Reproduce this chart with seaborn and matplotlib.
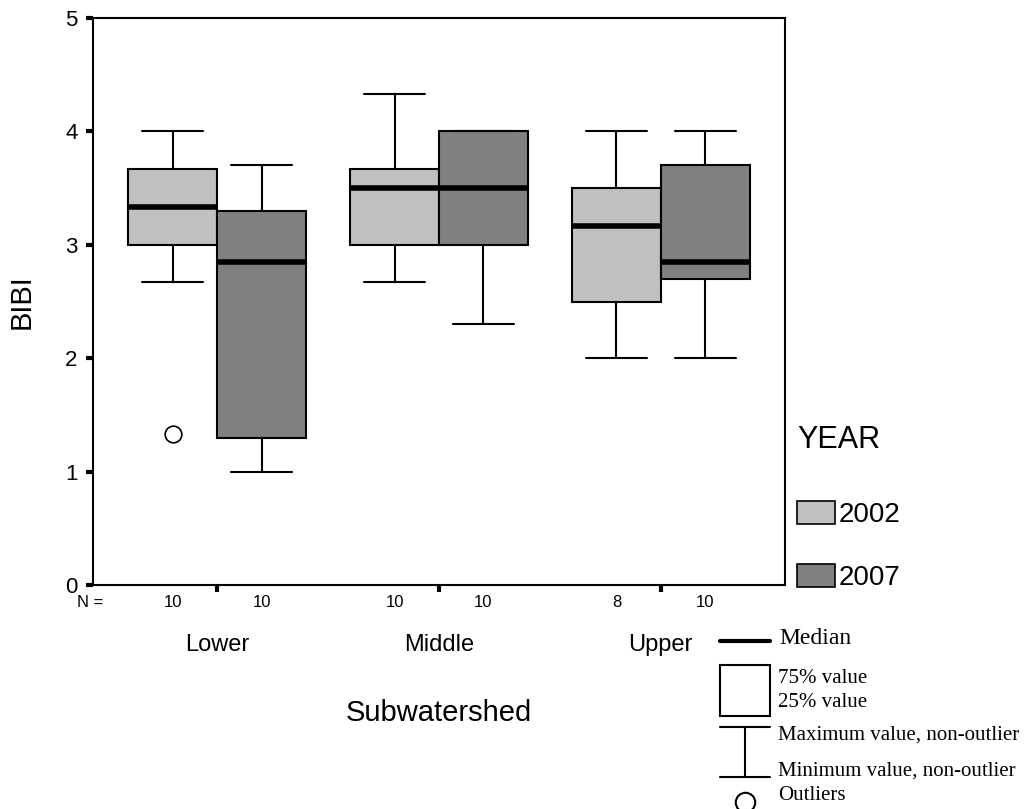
"""
BIBI by subwatershed, 2002 vs 2007 (SPSS-style boxplot)
"""
import numpy as np, pandas as pd
import seaborn as sns, matplotlib.pyplot as plt
import matplotlib.transforms as mtransforms
from matplotlib.patches import Patch, Rectangle
from matplotlib.lines import Line2D

# ────────── data ──────────
SUBWATERSHEDS = ["Lower", "Middle", "Upper"]
YEARS         = ["2002", "2007"]
COLORS        = {"2002": "#c0c0c0", "2007": "#808080"}

# site scores, read back from the boxes (min / q1 / median / q3 / max / outlier)
LOWER_2002  = [1.33, 2.67, 3.0, 3.0, 3.33, 3.33, 3.67, 3.67, 4.0, 4.0]
LOWER_2007  = [1.0, 1.3, 1.3, 1.3, 2.7, 3.0, 3.3, 3.3, 3.7, 3.7]
MIDDLE_2002 = [2.67, 3.0, 3.0, 3.0, 3.33, 3.67, 3.67, 3.67, 4.0, 4.33]
MIDDLE_2007 = [2.3, 3.0, 3.0, 3.0, 3.3, 3.7, 4.0, 4.0, 4.0, 4.0]
UPPER_2002  = [2.0, 2.5, 2.5, 3.0, 3.33, 3.5, 3.5, 4.0]
UPPER_2007  = [2.0, 2.7, 2.7, 2.7, 2.7, 3.0, 3.7, 3.7, 4.0, 4.0]

GROUPS = {("Lower", "2002"): LOWER_2002,  ("Lower", "2007"): LOWER_2007,
          ("Middle", "2002"): MIDDLE_2002, ("Middle", "2007"): MIDDLE_2007,
          ("Upper", "2002"): UPPER_2002,  ("Upper", "2007"): UPPER_2007}

rows = [{"Subwatershed": s, "YEAR": y, "BIBI": v}
        for (s, y), vals in GROUPS.items() for v in vals]
df = pd.DataFrame(rows)

# ────────── style ──────────
sns.set_style("white")
plt.rcParams["font.family"] = ["Liberation Sans", "DejaVu Sans"]
for k in ["text.color", "axes.labelcolor", "xtick.color", "ytick.color"]:
    plt.rcParams[k] = "black"
W, H = 1028, 809
fig = plt.figure(figsize=(W/100, H/100), dpi=100)
ax = fig.add_axes([93/W, 1-585/H, (785-93)/W, (585-18)/H])

sns.boxplot(data=df, x="Subwatershed", y="BIBI", hue="YEAR",
            order=SUBWATERSHEDS, hue_order=YEARS, palette=COLORS,
            saturation=1, width=0.8, gap=0, whis=1.5,
            linecolor="black", linewidth=1.5, fliersize=12,
            flierprops=dict(marker="o", markerfacecolor="none",
                            markeredgecolor="black", markeredgewidth=1.2),
            medianprops=dict(color="black", linewidth=4),
            capwidths=0.275, legend=False, ax=ax)

ax.set_xlim(-0.56, 2.56); ax.set_ylim(0, 5)
ax.set_yticks(range(6))
for sp in ax.spines.values():
    sp.set_visible(True); sp.set_linewidth(1.5); sp.set_color("black")
ax.tick_params(axis="both", direction="out", length=5, width=3, color="black",
               left=True, bottom=True)
ax.tick_params(axis="y", labelsize=16, pad=6)
ax.tick_params(axis="x", labelsize=17, pad=30)

ax.set_xlabel("Subwatershed", fontsize=21)
ax.xaxis.set_label_coords(0.5, (585-699)/567)
ax.set_ylabel("BIBI", fontsize=21)
ax.yaxis.set_label_coords(-0.083, 0.5)

# N = row
trans = mtransforms.blended_transform_factory(ax.transData, ax.transAxes)
ax.text(-0.004, -0.03, "N =", transform=ax.transAxes, ha="center",
        va="center", fontsize=12)
for i, s in enumerate(SUBWATERSHEDS):
    for j, y in enumerate(YEARS):
        n = len(GROUPS[(s, y)])
        ax.text(i + (j - 0.5)*0.4, -0.03, str(n), transform=trans,
                ha="center", va="center", fontsize=12)

# YEAR legend
handles = [Patch(facecolor=COLORS[y], edgecolor="black", linewidth=1.2) for y in YEARS]
leg = ax.legend(handles, YEARS, title="YEAR", loc="upper left",
                bbox_to_anchor=(797/W, 1-425/H), bbox_transform=fig.transFigure,
                frameon=False, fontsize=20, title_fontsize=22, alignment="left",
                handlelength=1.35, handleheight=0.9, labelspacing=1.3,
                handletextpad=0.15, borderpad=0, borderaxespad=0)
leg._legend_box.sep = 33

# symbol key (pixel coordinates of the figure)
key = fig.add_axes([0, 0, 1, 1], facecolor="none")
key.set_xlim(0, W); key.set_ylim(H, 0); key.axis("off")
key.add_line(Line2D([720, 770], [641, 641], color="black", lw=3))
key.add_patch(Rectangle((720, 665), 50, 51, fill=False, ec="black", lw=1.5))
key.add_line(Line2D([720, 770], [727, 727], color="black", lw=1.5))
key.add_line(Line2D([745, 745], [727, 777], color="black", lw=1.5))
key.add_line(Line2D([720, 770], [777, 777], color="black", lw=1.5))
key.plot([745], [802], marker="o", ms=14, mfc="none", mec="black", mew=1.5)
serif = ["Liberation Serif", "DejaVu Serif"]
key.text(779, 644, "Median", fontsize=17, family=serif, va="baseline")
for txt, yb in [("75% value", 683), ("25% value", 707),
                ("Maximum value, non-outlier", 740),
                ("Minimum value, non-outlier", 776), ("Outliers", 800)]:
    key.text(778, yb, txt, fontsize=15, family=serif, va="baseline")

fig.savefig("out.png", dpi=100)
